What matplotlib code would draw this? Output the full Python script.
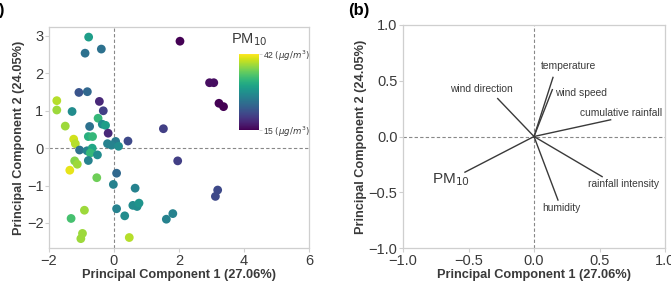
import matplotlib
matplotlib.use("Agg")
import matplotlib.pyplot as plt
import numpy as np

plt.rcParams["font.family"] = ["Liberation Sans", "DejaVu Sans"]

# ── Panel (a): PCA scores coloured by PM10 ─────────────────────
pc1 = [-0.78, -0.89, -0.39, 2.03, -1.08, -0.82, 2.94, 3.07, -1.76, -1.76,
       -1.29, -0.45, -0.33, 3.23, 3.37, -1.50, -0.75, -0.49, -0.36, -0.26,
       -0.79, -0.66, -0.18, -1.24, -1.19, 1.52, 0.43, 0.05, -0.20, -0.08,
       0.14, -1.06, -0.83, -0.67, -0.73, -0.51, -0.79, -1.21, -1.13, -1.36,
       1.96, 0.08, -0.53, -0.02, 0.65, 3.19, 3.12, -0.91, -1.32, 0.08,
       0.33, 0.58, 0.71, 0.77, 1.61, 1.81, -0.97, -1.02, 0.47]
pc2 = [2.97, 2.54, 2.65, 2.86, 1.49, 1.51, 1.75, 1.75, 1.27, 1.02,
       0.98, 1.25, 1.00, 1.20, 1.11, 0.59, 0.58, 0.80, 0.64, 0.61,
       0.31, 0.31, 0.40, 0.24, 0.12, 0.52, 0.19, 0.18, 0.12, 0.08,
       0.05, -0.05, -0.07, 0.00, -0.13, -0.18, -0.33, -0.34, -0.43, -0.59,
       -0.34, -0.67, -0.79, -0.97, -1.07, -1.12, -1.29, -1.66, -1.88, -1.62,
       -1.81, -1.53, -1.56, -1.47, -1.90, -1.75, -2.28, -2.42, -2.39]
pm10 = [30, 25, 25, 15, 22, 24, 16, 16, 39, 38,
        28, 18, 20, 15, 15, 38, 25, 33, 28, 30,
        32, 33, 18, 40, 39, 20, 21, 26, 27, 27,
        28, 25, 27, 31, 33, 28, 27, 37, 38, 41,
        20, 24, 36, 27, 27, 21, 21, 38, 34, 27,
        28, 28, 28, 29, 27, 27, 38, 38, 39]
pm_min, pm_max = 15, 42

# ── Panel (b): loading vectors ─────────────────────────────────
var_names = ["temperature", "wind speed", "cumulative rainfall", "wind direction",
             "PM$_{10}$", "humidity", "rainfall intensity"]
load_x = [0.145, 0.14, 0.585, -0.277, -0.527, 0.183, 0.52]
load_y = [0.53, 0.42, 0.15, 0.34, -0.32, -0.57, -0.36]
label_x = [0.05, 0.16, 0.35, -0.40, -0.636, 0.064, 0.41]
label_y = [0.63, 0.39, 0.21, 0.43, -0.385, -0.64, -0.43]
label_ha = ["left", "left", "left", "center", "center", "left", "left"]
label_fs = [7.4, 7.4, 7.4, 7.4, 11, 7.4, 7.4]

xlab = "Principal Component 1 (27.06%)"
ylab = "Principal Component 2 (24.05%)"

grey = "#cfcfcf"
txt = "#3a3a3a"

fig = plt.figure(figsize=(6.71, 2.87), dpi=100)
ax1 = fig.add_axes([49 / 671, 39 / 287, 260 / 671, 221 / 287])
ax2 = fig.add_axes([403 / 671, 39 / 287, 262 / 671, 223 / 287])


def style(ax):
    for s in ax.spines.values():
        s.set_color(grey)
        s.set_linewidth(0.9)
    ax.tick_params(colors=grey, labelcolor=txt, labelsize=10.5, length=3, width=0.8, pad=1)
    ax.set_xlabel(xlab, fontsize=9.2, fontweight="bold", color=txt, labelpad=1)
    ax.set_ylabel(ylab, fontsize=9.2, fontweight="bold", color=txt, labelpad=1)
    ax.axhline(0, color="#888888", lw=0.8, ls=(0, (3, 2)), zorder=0)
    ax.axvline(0, color="#888888", lw=0.8, ls=(0, (3, 2)), zorder=0)


style(ax1)
sc = ax1.scatter(pc1, pc2, c=pm10, cmap="viridis", vmin=pm_min, vmax=pm_max,
                 s=40, edgecolors="none", zorder=3)
ax1.set_xlim(-2, 6)
ax1.set_ylim(-2.67, 3.24)
ax1.set_xticks([-2, 0, 2, 4, 6])
ax1.set_yticks([-2, -1, 0, 1, 2, 3])

cax = ax1.inset_axes([0.731, 0.534, 0.077, 0.344])
cb = fig.colorbar(sc, cax=cax, ticks=[pm_min, pm_max])
cb.outline.set_visible(False)
cb.ax.tick_params(length=2, width=0.6, colors=grey, labelcolor=txt, labelsize=6.2, pad=1)
cb.ax.set_yticklabels([f"{pm_min} $(\\mu g/m^3)$", f"{pm_max} $(\\mu g/m^3)$"])
ax1.text(0.77, 0.905, "PM$_{10}$", transform=ax1.transAxes, ha="center", va="bottom",
         fontsize=10.5, color=txt)

style(ax2)
for lx, ly in zip(load_x, load_y):
    ax2.plot([0, lx], [0, ly], color="#3a3a3a", lw=1.0, zorder=3)
for name, tx, ty, ha, fs in zip(var_names, label_x, label_y, label_ha, label_fs):
    ax2.text(tx, ty, name, ha=ha, va="center", fontsize=fs, color=txt)
ax2.set_xlim(-1, 1)
ax2.set_ylim(-1, 1)
ax2.set_xticks([-1, -0.5, 0, 0.5, 1])
ax2.set_yticks([-1, -0.5, 0, 0.5, 1])

fig.text(5 / 671, 1 - 10 / 287, "(a)", ha="right", va="center", fontsize=12, fontweight="bold")
fig.text(348 / 671, 1 - 10 / 287, "(b)", ha="left", va="center", fontsize=12, fontweight="bold")

fig.savefig("out.png", dpi=100)
